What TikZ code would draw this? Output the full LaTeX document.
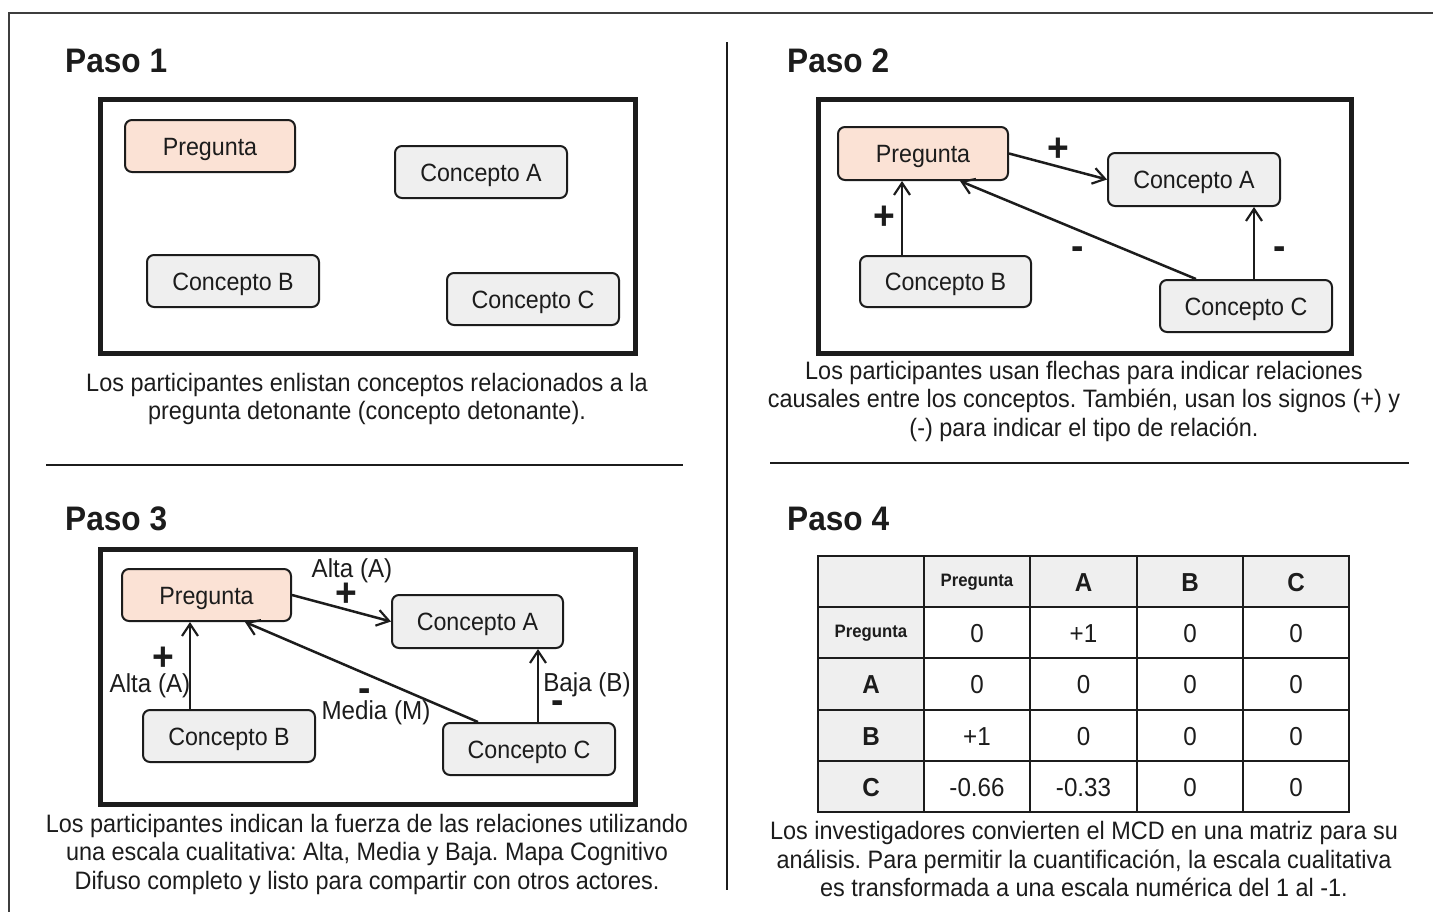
\documentclass[tikz,border=0pt]{standalone}
\usepackage{fontspec}
\setmainfont{Liberation Sans}[FakeStretch=0.93]
\usetikzlibrary{arrows.meta,calc}
\definecolor{peach}{HTML}{FBE2D5}
\definecolor{cgrey}{HTML}{EFEFEF}
\definecolor{ink}{HTML}{1C1C1C}
\frenchspacing
\begin{document}
\frenchspacing
\begin{tikzpicture}[x=1pt,y=-1pt,
  concept/.style={draw=ink, line width=2pt, rounded corners=7pt, fill=cgrey, text=ink,
    font=\fontsize{25}{30}\selectfont, inner sep=0pt, text height=19pt, text depth=1pt},
  preg/.style={concept, fill=peach},
  boxframe/.style={draw=ink, line width=5pt},
  arr/.style={draw=ink, line width=2.5pt, -{Straight Barb[length=12pt,width=16pt,line width=2.2pt]}},
  signtxt/.style={text=ink, font=\bfseries\fontsize{40}{40}\selectfont, inner sep=0pt},
  lbltxt/.style={text=ink, font=\fontsize{26}{26}\selectfont, inner sep=0pt},
  captxt/.style={text=ink, font=\fontsize{25.2}{28.5}\selectfont, align=center, inner sep=0pt},
  ttltxt/.style={text=ink, font=\bfseries\fontsize{34}{34}\selectfont, anchor=base west, inner sep=0pt},
  divrule/.style={draw=ink, line width=2.5pt},
  celltxt/.style={text=ink, font=\fontsize{26}{26}\selectfont, inner sep=0pt},
  hcelltxt/.style={text=ink, font=\bfseries\fontsize{26}{26}\selectfont, inner sep=0pt},
  scelltxt/.style={text=ink, font=\bfseries\fontsize{18}{18}\selectfont, inner sep=0pt}
]
\useasboundingbox (0,0) rectangle (1433,911);
\fill[white] (0,0) rectangle (1433,911);

% outer frame and dividers
\draw[draw=ink!85, line width=2.5pt] (9,930) -- (9,13) -- (1450,13);
\draw[divrule] (727,42) -- (727,890);
\draw[divrule] (46,465) -- (683,465);
\draw[divrule] (770,463) -- (1409,463);

% ---------------- Paso 1 ----------------
\node[ttltxt] (t1) at (65,72) {Paso 1};
\draw[boxframe] (100,99) rectangle (635,353);
\node[preg, minimum width=170pt, minimum height=52pt] (p1) at (210,146) {Pregunta};
\node[concept, minimum width=172pt, minimum height=52pt] (a1) at (481,172) {Concepto A};
\node[concept, minimum width=172pt, minimum height=52pt] (b1) at (233,281) {Concepto B};
\node[concept, minimum width=172pt, minimum height=52pt] (c1) at (533,299) {Concepto C};
\node[captxt] (cap1) at (367,399) {Los participantes enlistan conceptos relacionados a la\\pregunta detonante (concepto detonante).};

% ---------------- Paso 2 ----------------
\node[ttltxt] (t2) at (787,72) {Paso 2};
\draw[boxframe] (818,99) rectangle (1351,353);
\node[preg, minimum width=170pt, minimum height=53pt] (p2) at (923,153.5) {Pregunta};
\node[concept, minimum width=172pt, minimum height=53pt] (a2) at (1194,179.5) {Concepto A};
\node[concept, minimum width=171pt, minimum height=51pt] (b2) at (945.5,281.5) {Concepto B};
\node[concept, minimum width=172pt, minimum height=52pt] (c2) at (1246,306) {Concepto C};
\draw[arr] (p2.east) -- (a2.west);
\draw[arr] ([xshift=-43.5pt]b2.north) -- ([xshift=-21pt]p2.south);
\draw[arr] ([xshift=-50pt]c2.north) -- ([xshift=37pt]p2.south);
\draw[arr] ([xshift=8pt]c2.north) -- ([xshift=60pt]a2.south);
\node[signtxt] (s21) at (1058,150) {+};
\node[signtxt] (s22) at (884,218) {+};
\node[signtxt] (s23) at (1078,253) {-};
\node[signtxt] (s24) at (1280,253) {-};
\node[captxt] (cap2) at (1084,401) {Los participantes usan flechas para indicar relaciones\\causales entre los conceptos. También, usan los signos (+) y\\(-) para indicar el tipo de relación.};

% ---------------- Paso 3 ----------------
\node[ttltxt] (t3) at (65,530) {Paso 3};
\draw[boxframe] (100,549) rectangle (635,804);
\node[preg, minimum width=169pt, minimum height=52pt] (p3) at (206.5,595) {Pregunta};
\node[concept, minimum width=171pt, minimum height=53pt] (a3) at (477.5,621.5) {Concepto A};
\node[concept, minimum width=172pt, minimum height=52pt] (b3) at (229,736) {Concepto B};
\node[concept, minimum width=172pt, minimum height=52pt] (c3) at (529,749) {Concepto C};
\draw[arr] (p3.east) -- (a3.west);
\draw[arr] ([xshift=-39pt]b3.north) -- ([xshift=-16.5pt]p3.south);
\draw[arr] ([xshift=-51pt]c3.north) -- ([xshift=38.5pt]p3.south);
\draw[arr] ([xshift=9pt]c3.north) -- ([xshift=60.5pt]a3.south);
\node[lbltxt] (l31) at (352,571) {Alta (A)};
\node[signtxt] (s31) at (346,595) {+};
\node[signtxt] (s32) at (163,659) {+};
\node[lbltxt] (l32) at (150,686) {Alta (A)};
\node[signtxt] (s33) at (365,695) {-};
\node[lbltxt] (l33) at (376,713) {Media (M)};
\node[lbltxt] (l34) at (587,685) {Baja (B)};
\node[signtxt] (s34) at (558,707) {-};
\node[captxt] (cap3) at (367,854) {Los participantes indican la fuerza de las relaciones utilizando\\una escala cualitativa: Alta, Media y Baja. Mapa Cognitivo\\Difuso completo y listo para compartir con otros actores.};

% ---------------- Paso 4 ----------------
\node[ttltxt] (t4) at (787,530) {Paso 4};
\fill[cgrey] (818,556) rectangle (1349,607);
\fill[cgrey] (818,607) rectangle (924,812);
\foreach \x in {924,1030,1137,1243} \draw[divrule] (\x,556) -- (\x,812);
\foreach \y in {607,658,710,761} \draw[divrule] (818,\y) -- (1349,\y);
\draw[divrule] (818,556) rectangle (1349,812);
% header row
\node[scelltxt] (h1) at (977,582) {Pregunta};
\node[hcelltxt] (h2) at (1083.5,583) {A};
\node[hcelltxt] (h3) at (1190,583) {B};
\node[hcelltxt] (h4) at (1296,583) {C};
% row headers
\node[scelltxt] (r1) at (871,633) {Pregunta};
\node[hcelltxt] (r2) at (871,685) {A};
\node[hcelltxt] (r3) at (871,736.5) {B};
\node[hcelltxt] (r4) at (871,787.5) {C};
% values
\foreach \v [count=\c] in {0,+1,0,0} {
  \pgfmathsetmacro{\xx}{{977,1083.5,1190,1296}[\c-1]}
  \node[celltxt] (v1\c) at (\xx,634) {\v};
}
\foreach \v [count=\c] in {0,0,0,0} {
  \pgfmathsetmacro{\xx}{{977,1083.5,1190,1296}[\c-1]}
  \node[celltxt] (v2\c) at (\xx,685) {\v};
}
\foreach \v [count=\c] in {+1,0,0,0} {
  \pgfmathsetmacro{\xx}{{977,1083.5,1190,1296}[\c-1]}
  \node[celltxt] (v3\c) at (\xx,736.5) {\v};
}
\foreach \v [count=\c] in {-0.66,-0.33,0,0} {
  \pgfmathsetmacro{\xx}{{977,1083.5,1190,1296}[\c-1]}
  \node[celltxt] (v4\c) at (\xx,787.5) {\v};
}
\node[captxt] (cap4) at (1084,859) {Los investigadores convierten el MCD en una matriz para su\\análisis. Para permitir la cuantificación, la escala cualitativa\\es transformada a una escala numérica del 1 al -1.};
\end{tikzpicture}
\end{document}
